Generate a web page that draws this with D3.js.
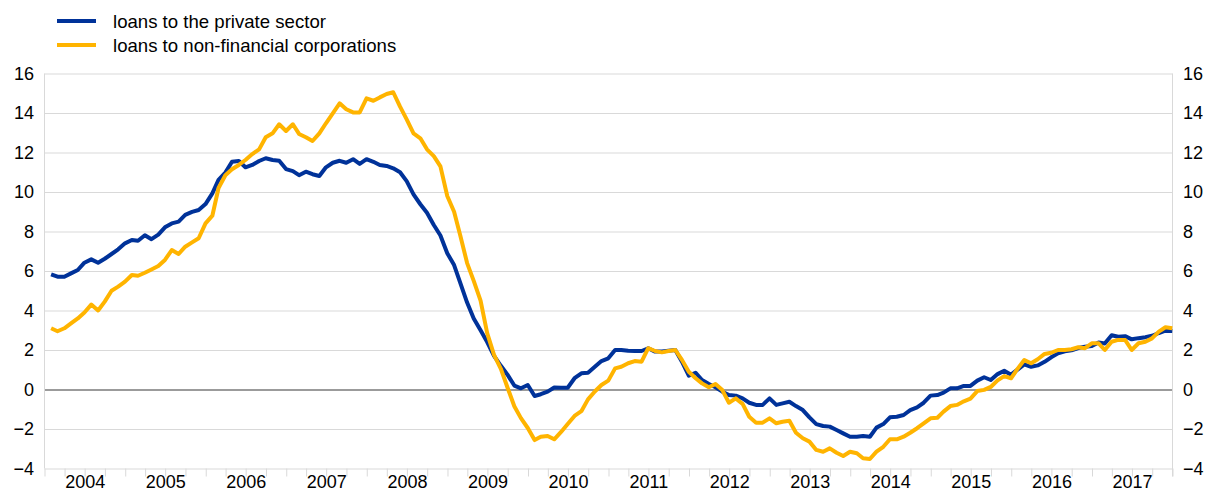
<!DOCTYPE html>
<html lang="en">
<head>
<meta charset="UTF-8">
<title>Loans</title>
<script src="https://cdnjs.cloudflare.com/ajax/libs/d3/7.8.5/d3.min.js"></script>
<style>
  body { margin: 0; background: #fff; }
  svg text { font-family: "Liberation Sans", Arial, sans-serif; font-size: 18px; fill: #000; }
  svg .legend text { font-size: 18.6px; }
</style>
</head>
<body>
<svg id="chart" width="1213" height="491"></svg>
<script>
    // annual growth rates, monthly, Jan 2004 - Dec 2017
    const seriesNames = ['loans to the private sector', 'loans to non-financial corporations'];

    const privateSector = [
      5.83, 5.71, 5.71, 5.88, 6.05, 6.42, 6.59, 6.42, 6.62, 6.86, 7.10, 7.40,
      7.57, 7.53, 7.81, 7.61, 7.84, 8.21, 8.41, 8.50, 8.84, 8.99, 9.09, 9.39,
      9.93, 10.61, 10.98, 11.53, 11.57, 11.25, 11.37, 11.57, 11.71, 11.62, 11.58, 11.16,
      11.06, 10.85, 11.03, 10.90, 10.81, 11.25, 11.48, 11.58, 11.48, 11.66, 11.42, 11.66,
      11.53, 11.37, 11.32, 11.20, 11.00, 10.55, 9.88, 9.38, 8.95, 8.33, 7.80, 6.90,
      6.30, 5.40, 4.40, 3.60, 3.00, 2.40, 1.70, 1.20, 0.75, 0.20, 0.06, 0.23,
      -0.33, -0.24, -0.11, 0.10, 0.09, 0.09, 0.57, 0.82, 0.85, 1.15, 1.44, 1.58,
      2.00, 2.00, 1.96, 1.95, 1.95, 2.09, 1.92, 1.92, 1.96, 2.00, 1.41, 0.70,
      0.85, 0.48, 0.28, 0.11, -0.11, -0.28, -0.31, -0.45, -0.67, -0.78, -0.78, -0.45,
      -0.78, -0.70, -0.62, -0.84, -1.04, -1.41, -1.75, -1.85, -1.88, -2.05, -2.22, -2.39,
      -2.39, -2.35, -2.39, -1.93, -1.75, -1.41, -1.38, -1.29, -1.04, -0.90, -0.67, -0.31,
      -0.28, -0.16, 0.06, 0.06, 0.18, 0.18, 0.45, 0.62, 0.48, 0.78, 0.95, 0.75,
      1.02, 1.27, 1.15, 1.22, 1.40, 1.63, 1.83, 1.93, 1.98, 2.10, 2.17, 2.20,
      2.38, 2.33, 2.75, 2.67, 2.70, 2.54, 2.60, 2.65, 2.72, 2.86, 2.98, 2.96
    ];

    const nonFinancial = [
      3.10, 2.95, 3.10, 3.35, 3.60, 3.90, 4.30, 4.00, 4.45, 5.00, 5.21, 5.46,
      5.80, 5.76, 5.91, 6.08, 6.25, 6.56, 7.06, 6.86, 7.23, 7.45, 7.66, 8.41,
      8.80, 10.20, 10.85, 11.15, 11.37, 11.62, 11.92, 12.16, 12.77, 12.97, 13.43, 13.09,
      13.43, 12.94, 12.77, 12.58, 12.97, 13.48, 13.98, 14.49, 14.19, 14.03, 14.03, 14.74,
      14.62, 14.79, 14.96, 15.05, 14.32, 13.68, 12.97, 12.72, 12.16, 11.82, 11.30, 9.80,
      9.00, 7.80, 6.40, 5.50, 4.50, 2.85, 1.75, 1.05, 0.10, -0.85, -1.45, -1.95,
      -2.56, -2.39, -2.35, -2.52, -2.15, -1.75, -1.34, -1.10, -0.50, -0.10, 0.23, 0.45,
      1.07, 1.15, 1.33, 1.44, 1.41, 2.09, 1.95, 1.88, 1.95, 2.00, 1.50, 0.90,
      0.57, 0.31, 0.11, 0.28, -0.03, -0.67, -0.45, -0.73, -1.38, -1.68, -1.68, -1.46,
      -1.71, -1.63, -1.58, -2.19, -2.47, -2.64, -3.06, -3.15, -2.98, -3.20, -3.37, -3.15,
      -3.23, -3.48, -3.52, -3.15, -2.90, -2.52, -2.52, -2.39, -2.19, -1.96, -1.71, -1.46,
      -1.43, -1.12, -0.84, -0.78, -0.60, -0.46, -0.08, -0.02, 0.13, 0.46, 0.68, 0.57,
      1.07, 1.49, 1.33, 1.53, 1.80, 1.86, 2.00, 2.00, 2.04, 2.14, 2.09, 2.34,
      2.34, 2.00, 2.42, 2.51, 2.51, 2.00, 2.34, 2.42, 2.59, 2.93, 3.15, 3.10
    ];

    const yTicks = [-4, -2, 0, 2, 4, 6, 8, 10, 12, 14, 16];
    const years = d3.range(2004, 2018);
    const colors = ['#003299', '#ffb400'];

    // one point per month, placed at month end
    const months = d3.timeMonth.range(new Date(2004, 0, 1), new Date(2018, 0, 1));
    const monthEnd = m => new Date(m.getFullYear(), m.getMonth() + 1, 0);

    const plotLeft = 44.5, plotRight = 1172.5, plotTop = 73.5, plotBottom = 468.5;

    const svg = d3.select('#chart');

    const x = d3.scaleTime()
      .domain([new Date(2004, 0, 1), new Date(2018, 0, 1)])
      .range([plotLeft, plotRight]);

    const y = d3.scaleLinear()
      .domain([-4, 16])
      .range([plotBottom, plotTop]);

    // horizontal grid
    svg.append('g')
      .attr('transform', `translate(${plotLeft},0)`)
      .call(d3.axisLeft(y).tickValues(yTicks).tickSize(-(plotRight - plotLeft)).tickFormat(''))
      .call(g => g.select('.domain').remove())
      .call(g => g.selectAll('line')
        .attr('stroke', d => d === 0 ? '#7a7a7a' : '#d9d9d9')
        .attr('stroke-width', d => d === 0 ? 1.5 : 1.2));

    // frame sides
    svg.append('line')
      .attr('x1', plotLeft).attr('x2', plotLeft).attr('y1', plotTop).attr('y2', plotBottom)
      .attr('stroke', '#d9d9d9');
    svg.append('line')
      .attr('x1', plotRight).attr('x2', plotRight).attr('y1', plotTop).attr('y2', plotBottom + 8)
      .attr('stroke', '#d9d9d9');

    // y labels both sides
    svg.append('g')
      .attr('transform', 'translate(34,0)')
      .call(d3.axisLeft(y).tickValues(yTicks).tickSize(0).tickPadding(0))
      .call(g => g.select('.domain').remove())
      .call(g => g.selectAll('text').attr('font-size', null).attr('font-family', null));

    svg.append('g')
      .attr('transform', 'translate(1183,0)')
      .call(d3.axisRight(y).tickValues(yTicks).tickSize(0).tickPadding(0))
      .call(g => g.select('.domain').remove())
      .call(g => g.selectAll('text').attr('font-size', null).attr('font-family', null));

    // quarterly tick marks
    const quarters = d3.timeMonth.every(3).range(new Date(2004, 0, 1), new Date(2018, 0, 2));
    svg.append('g')
      .attr('transform', `translate(0,${plotBottom})`)
      .call(d3.axisBottom(x).tickValues(quarters).tickSize(8).tickFormat(''))
      .call(g => g.select('.domain').remove())
      .call(g => g.selectAll('line').attr('stroke', '#d9d9d9'));

    // year labels centred in each year
    svg.append('g')
      .attr('transform', `translate(0,${plotBottom})`)
      .call(d3.axisBottom(x)
        .tickValues(years.map(yr => new Date(yr, 6, 1)))
        .tickSize(0).tickPadding(7)
        .tickFormat(d3.timeFormat('%Y')))
      .call(g => g.select('.domain').remove())
      .call(g => g.selectAll('text').attr('font-size', null).attr('font-family', null));

    const line = d3.line()
      .x((d, i) => x(monthEnd(months[i])))
      .y(d => y(d));

    [privateSector, nonFinancial].forEach((s, k) => {
      svg.append('path')
        .datum(s)
        .attr('fill', 'none')
        .attr('stroke', colors[k])
        .attr('stroke-width', 4)
        .attr('stroke-linejoin', 'round')
        .attr('d', line);
    });

    // legend
    const legend = svg.append('g').attr('class', 'legend');
    seriesNames.forEach((name, k) => {
      const ly = 21 + k * 24;
      legend.append('line')
        .attr('x1', 57).attr('x2', 96).attr('y1', ly).attr('y2', ly)
        .attr('stroke', colors[k]).attr('stroke-width', 4);
      legend.append('text')
        .attr('x', 113).attr('y', ly)
        .attr('dy', '0.35em')
        .text(name);
    });
</script>
</body>
</html>
